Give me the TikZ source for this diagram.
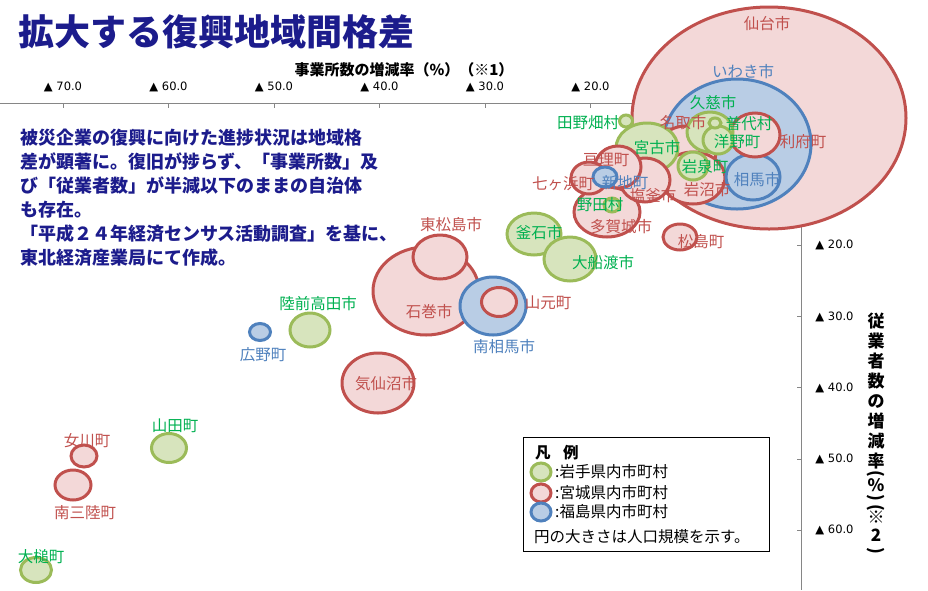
\documentclass[tikz,border=0pt]{standalone}
\usepackage{fontspec}
\usepackage{graphicx}
\usetikzlibrary{shapes.geometric,calc,positioning}
\newfontfamily\jp{Noto Sans CJK JP}
\newfontfamily\tickfont{DejaVu Sans}
\definecolor{redline}{HTML}{C0504D}
\definecolor{redfill}{HTML}{F3D8D8}
\definecolor{redtext}{HTML}{C0504D}
\definecolor{grnline}{HTML}{9BBB59}
\definecolor{grnfill}{HTML}{D7E4BD}
\definecolor{grntext}{HTML}{00B050}
\definecolor{bluline}{HTML}{4F81BD}
\definecolor{blufill}{HTML}{B9CDE5}
\definecolor{blutext}{HTML}{4F81BD}
\definecolor{navy}{HTML}{1C1C8C}
\definecolor{axisgray}{HTML}{868686}

\begin{document}
\begin{tikzpicture}[x=1pt,y=-1pt,
    bubble/.style={ellipse, line width=3pt, inner sep=0pt, outer sep=0pt},
    sz/.style 2 args={minimum width=2*#1, minimum height=2*#2},
    iwate/.style={bubble, draw=grnline, fill=grnfill},
    miyagi/.style={bubble, draw=redline, fill=redfill},
    fukushima/.style={bubble, draw=bluline, fill=blufill},
    lbl/.style={font=\jp\fontsize{15.5}{18}\selectfont, inner sep=0pt},
    iwatelbl/.style={lbl, text=grntext},
    miyagilbl/.style={lbl, text=redtext},
    fukulbl/.style={lbl, text=blutext},
    axis/.style={draw=axisgray, line width=1pt},
    ticklbl/.style={font=\tickfont\fontsize{11.5}{13}\selectfont, inner sep=0pt},
    legtxt/.style={font=\jp\fontsize{15.5}{18}\selectfont, inner sep=0pt, anchor=west},
  ]
  \useasboundingbox (0,0) rectangle (928,590);

  % axes
  \coordinate (O) at (801.5,103);
  \coordinate (xl) at (0,103);
  \coordinate (yb) at (801.5,590);
  \draw[axis] (xl) -- (O) -- (yb);
  \foreach \v in {70,60,50,40,30,20} {
    \draw[axis] ($(O)+(-10.55*\v,0)$) -- ++(0,5);
    \node[ticklbl] (tx\v) at ($(O)+(-10.55*\v,-16)$) {▲ \v.0};
  }
  \foreach \v in {20,30,40,50,60} {
    \draw[axis] ($(O)+(0,7.12*\v)$) -- ++(-5,0);
    \node[ticklbl] (ty\v) at ($(O)+(33,7.12*\v)$) {▲ \v.0};
  }

  % bubbles, largest first
  \node[miyagi, sz={137}{111}] (sendai) at (769,118) {};
  \node[fukushima, sz={74}{65}] (iwaki) at (737,144) {};
  \node[miyagi, sz={53}{44}] (ishinomaki) at (426,291) {};
  \node[miyagi, sz={36}{30}] (kesennuma) at (378,383) {};
  \node[fukushima, sz={33}{29}] (minamisoma) at (493,306) {};
  \node[miyagi, sz={33}{25}] (tagajo) at (607,212) {};
  \node[miyagi, sz={30}{26}] (natori) at (686,152) {};
  \node[miyagi, sz={32}{26}] (iwanuma) at (693,178) {};
  \node[iwate, sz={31}{25}] (miyako) at (647,148) {};
  \node[miyagi, sz={27}{22}] (higashimatsushima) at (440,257) {};
  \node[fukushima, sz={27}{23}] (soma) at (753,177) {};
  \node[iwate, sz={27}{21}] (kamaishi) at (534,234) {};
  \node[iwate, sz={26}{22}] (ofunato) at (570,259) {};
  \node[miyagi, sz={25}{22}] (rifu) at (755,135) {};
  \node[miyagi, sz={25}{22}] (shiogama) at (645,180) {};
  \node[iwate, sz={23}{20}] (kuji) at (710,132) {};
  \node[miyagi, sz={23}{21}] (watari) at (618,167) {};
  \node[iwate, sz={20}{17}] (rikuzentakata) at (310,330) {};
  \node[miyagi, sz={18}{15}] (minamisanriku) at (73,485) {};
  \node[miyagi, sz={18}{16}] (shichigahama) at (589,178) {};
  \node[iwate, sz={17.5}{14.5}] (yamada) at (169,448) {};
  \node[miyagi, sz={17.5}{14.5}] (yamamoto) at (499,302) {};
  \node[miyagi, sz={17}{13}] (matsushima) at (680,237) {};
  \node[iwate, sz={15.5}{12.5}] (otsuchi) at (36,570) {};
  \node[iwate, sz={15}{14}] (hirono) at (718,140) {};
  \node[iwate, sz={15}{14}] (iwaizumi) at (693,166) {};
  \node[miyagi, sz={13}{11}] (onagawa) at (84,456) {};
  \node[fukushima, sz={12}{10}] (shinchi) at (605,177) {};
  \node[fukushima, sz={10.5}{8.5}] (hironomachi) at (260,332) {};
  \node[iwate, sz={8}{7}] (noda) at (612,205) {};
  \node[iwate, sz={6.5}{6}] (tanohata) at (626,121) {};
  \node[iwate, sz={6}{5}] (fudai) at (715,123) {};

  % labels
  \node[miyagilbl] (sendaiL) at ($(sendai)+(-2,-94)$) {仙台市};
  \node[fukulbl] (iwakiL) at ($(iwaki)+(6,-72)$) {いわき市};
  \node[iwatelbl] (kujiL) at ($(kuji)+(3,-29)$) {久慈市};
  \node[iwatelbl] (fudaiL) at ($(fudai)+(34,1)$) {普代村};
  \node[iwatelbl] (hironoL) at ($(hirono)+(19,2)$) {洋野町};
  \node[miyagilbl] (rifuL) at ($(rifu)+(48,7)$) {利府町};
  \node[fukulbl] (somaL) at ($(soma)+(4,3)$) {相馬市};
  \node[miyagilbl] (natoriL) at ($(natori)+(-3,-29)$) {名取市};
  \node[iwatelbl] (miyakoL) at ($(miyako)+(10,0)$) {宮古市};
  \node[iwatelbl] (iwaizumiL) at ($(iwaizumi)+(12,1)$) {岩泉町};
  \node[miyagilbl] (iwanumaL) at ($(iwanuma)+(14,12)$) {岩沼市};
  \node[iwatelbl] (tanohataL) at ($(tanohata)+(-38,2)$) {田野畑村};
  \node[miyagilbl] (watariL) at ($(watari)+(-12,-7)$) {亘理町};
  \node[miyagilbl] (shichigahamaL) at ($(shichigahama)+(-26,6)$) {七ヶ浜町};
  \node[fukulbl] (shinchiL) at ($(shinchi)+(20,6)$) {新地町};
  \node[miyagilbl] (shiogamaL) at ($(shiogama)+(8,16)$) {塩釜市};
  \node[iwatelbl] (nodaL) at ($(noda)+(-12,0)$) {野田村};
  \node[miyagilbl] (tagajoL) at ($(tagajo)+(14,15)$) {多賀城市};
  \node[miyagilbl] (matsushimaL) at ($(matsushima)+(21,5)$) {松島町};
  \node[iwatelbl] (kamaishiL) at ($(kamaishi)+(5,-1)$) {釜石市};
  \node[iwatelbl] (ofunatoL) at ($(ofunato)+(33,4)$) {大船渡市};
  \node[miyagilbl] (higashimatsushimaL) at ($(higashimatsushima)+(11,-32)$) {東松島市};
  \node[miyagilbl] (ishinomakiL) at ($(ishinomaki)+(3,21)$) {石巻市};
  \node[miyagilbl] (yamamotoL) at ($(yamamoto)+(49,1)$) {山元町};
  \node[fukulbl] (minamisomaL) at ($(minamisoma)+(11,41)$) {南相馬市};
  \node[iwatelbl] (rikuzentakataL) at ($(rikuzentakata)+(8,-26)$) {陸前高田市};
  \node[fukulbl] (hironomachiL) at ($(hironomachi)+(3,23)$) {広野町};
  \node[miyagilbl] (kesennumaL) at ($(kesennuma)+(8,1)$) {気仙沼市};
  \node[iwatelbl] (yamadaL) at ($(yamada)+(6,-22)$) {山田町};
  \node[miyagilbl] (onagawaL) at ($(onagawa)+(3,-15)$) {女川町};
  \node[miyagilbl] (minamisanrikuL) at ($(minamisanriku)+(12,28)$) {南三陸町};
  \node[iwatelbl] (otsuchiL) at ($(otsuchi)+(5,-13)$) {大槌町};

  % axis titles
  \node[font=\jp\bfseries\fontsize{15}{18}\selectfont, inner sep=0pt] (xtitle) at (404,70) {事業所数の増減率（\%）（※1）};
  \node[font=\jp\bfseries\fontsize{17}{20}\selectfont, inner sep=0pt, align=center, anchor=north] (ytitle) at (876,313)
    {従\\業\\者\\数\\の\\増\\減\\率\\[-8pt]\rotatebox[origin=c]{-90}{(}\\[-8pt]\%\\[-8pt]\rotatebox[origin=c]{-90}{)}\\[-10pt]\rotatebox[origin=c]{-90}{(}\\[-10pt]※\\[-2pt]2\\[-5pt]\rotatebox[origin=c]{-90}{)}};

  % legend
  \node[draw=black, line width=0.8pt, fill=white, minimum width=246, minimum height=114, inner sep=0pt, anchor=north west] (legend) at (523,437) {};
  \node[legtxt, font=\jp\bfseries\fontsize{15.5}{18}\selectfont] (hanrei) at (535,453) {凡\hspace{0.8em}例};
  \node[iwate, sz={10}{9}] (keyA) at (541,472) {};
  \node[miyagi, sz={10}{9}] (keyB) at (541,493) {};
  \node[fukushima, sz={10}{9}] (keyC) at (541,512) {};
  \node[legtxt, right=4pt of keyA] (keyAL) {:岩手県内市町村};
  \node[legtxt, right=4pt of keyB] (keyBL) {:宮城県内市町村};
  \node[legtxt, right=4pt of keyC] (keyCL) {:福島県内市町村};
  \node[legtxt] (note) at (534,537) {円の大きさは人口規模を示す。};

  % title and comment
  \node[font=\jp\bfseries\fontsize{36}{40}\selectfont, text=navy, inner sep=0pt, anchor=west] (title) at (18,32) {拡大する復興地域間格差};
  \node[font=\jp\bfseries\fontsize{18}{24}\selectfont, text=navy, inner sep=0pt, align=left, anchor=north west] (comment) at (20,129)
    {被災企業の復興に向けた進捗状況は地域格\\
     差が顕著に。復旧が捗らず、「事業所数」及\\
     び「従業者数」が半減以下のままの自治体\\
     も存在。\\
     「平成２４年経済センサス活動調査」を基に、\\
     東北経済産業局にて作成。};
\end{tikzpicture}
\end{document}
